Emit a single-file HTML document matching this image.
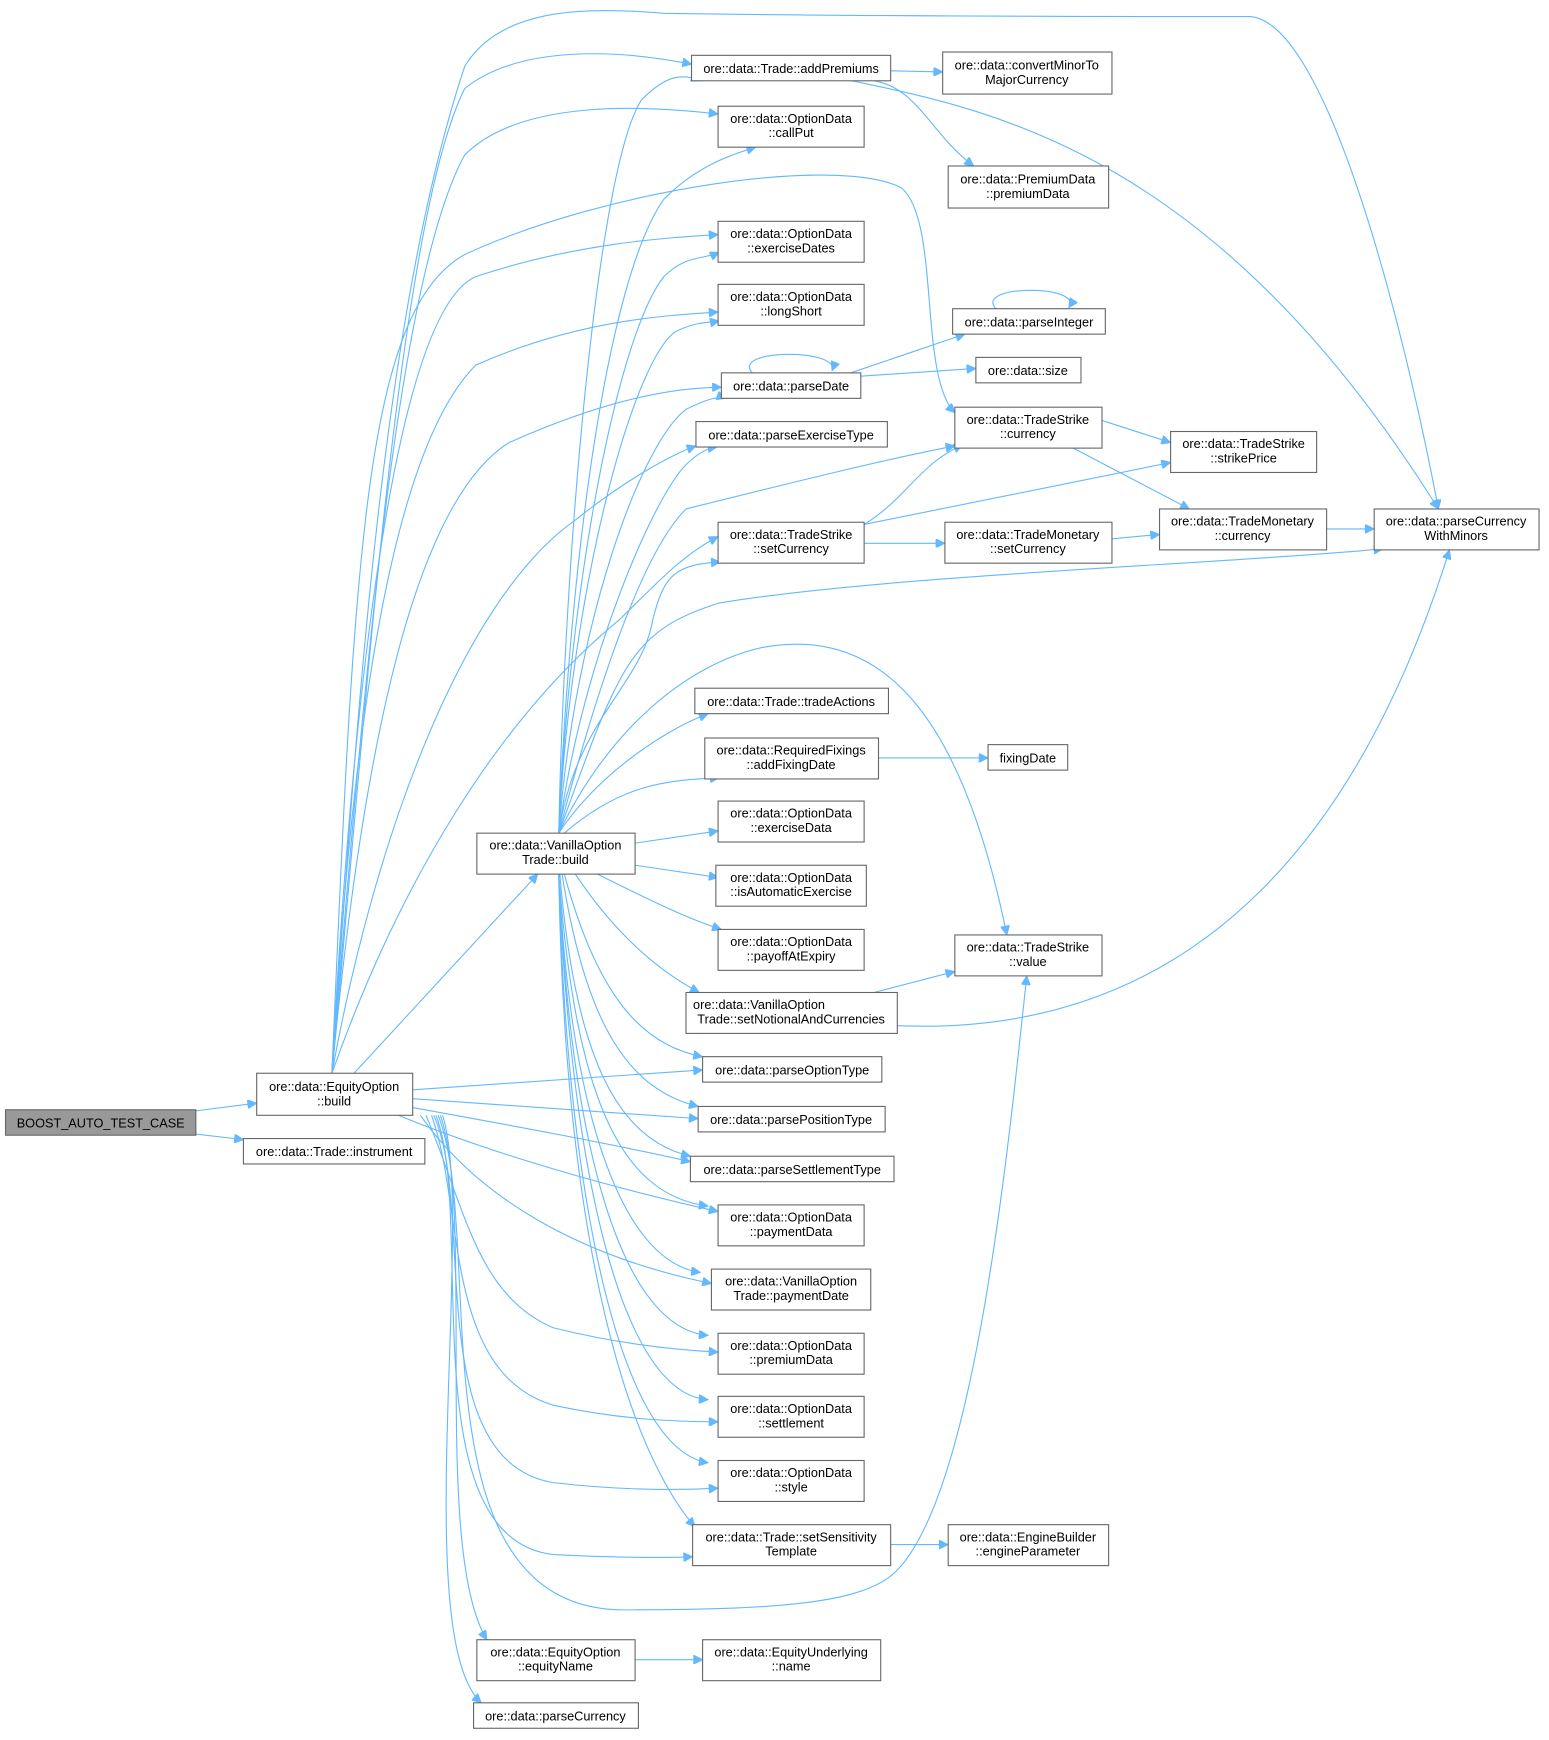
<!DOCTYPE html>
<html><head><meta charset="utf-8"><style>
html,body{margin:0;padding:0;background:#fff}
svg{display:block}
text{font-family:"Liberation Sans",sans-serif;font-size:11.5px;fill:#000;text-anchor:middle}
.n{fill:#fff;stroke:#666;stroke-width:1}
.e{fill:none;stroke:#63b8ff;stroke-width:1;marker-end:url(#a)}
</style></head><body>
<svg width="1549" height="1740" viewBox="0 0 1400 1572.6" xmlns="http://www.w3.org/2000/svg">
<defs><marker id="a" viewBox="0 0 10 10" refX="10" refY="5" markerWidth="10" markerHeight="8" markerUnits="userSpaceOnUse" orient="auto"><path d="M0,0 L10,5 L0,10 z" fill="#63b8ff" stroke="#63b8ff"/></marker></defs>
<g>
<!-- BOOST edges -->
<path class="e" d="M177,1004 L232,997"/>
<path class="e" d="M177,1025 L220,1030"/>
<!-- EquityOption::build edges upward -->
<path class="e" d="M300,970 C330,650 360,200 420,80 C470,40 560,45 625,58"/>
<path class="e" d="M300,970 C330,600 360,250 420,140 C470,90 580,95 649,103"/>
<path class="e" d="M300,970 C320,700 340,300 420,60 C450,10 520,5 600,12 C800,15 1000,15 1130,15 C1200,20 1270,300 1300,460"/>
<path class="e" d="M300,970 C320,500 330,280 420,230 C550,170 760,140 815,170 C850,200 830,340 863,373"/>
<path class="e" d="M300,970 C320,600 360,280 430,250 C520,220 600,215 649,212"/>
<path class="e" d="M300,970 C320,620 360,400 430,330 C520,290 600,285 649,282"/>
<path class="e" d="M300,970 C330,650 380,450 460,400 C550,360 610,350 652,350"/>
<path class="e" d="M300,970 C340,750 420,540 520,470 C570,430 610,410 629,403"/>
<path class="e" d="M300,970 C360,800 450,650 560,560 C600,520 620,500 649,485"/>
<path class="e" d="M320,970 L486,790"/>
<!-- EquityOption::build edges right/down -->
<path class="e" d="M373,985 L635,967"/>
<path class="e" d="M373,993 L631,1011"/>
<path class="e" d="M373,1001 C450,1015 560,1035 624,1050"/>
<path class="e" d="M360,1008 C450,1045 560,1075 649,1095"/>
<path class="e" d="M380,1008 C430,1080 520,1135 643,1160"/>
<path class="e" d="M385,1008 C420,1090 430,1170 500,1200 C560,1215 610,1220 649,1222"/>
<path class="e" d="M390,1008 C420,1090 400,1240 500,1270 C560,1283 610,1285 649,1285"/>
<path class="e" d="M392,1008 C430,1090 380,1320 500,1340 C560,1347 610,1347 649,1345"/>
<path class="e" d="M394,1008 C430,1100 370,1390 500,1405 C560,1408 600,1408 626,1407"/>
<path class="e" d="M396,1008 C440,1120 370,1450 560,1455 C700,1455 780,1450 810,1420 C880,1350 910,1050 928,882"/>
<path class="e" d="M398,1008 C430,1100 390,1400 440,1482"/>
<path class="e" d="M400,1008 C430,1100 370,1480 435,1539"/>
<!-- VanillaOptionTrade::build edges -->
<path class="e" d="M505,753 C510,500 540,150 580,90 C600,70 615,65 633,73"/>
<path class="e" d="M505,753 C515,500 550,250 600,180 C630,150 660,140 683,133"/>
<path class="e" d="M505,753 C515,520 560,300 600,250 C620,230 635,235 650,228"/>
<path class="e" d="M505,753 C515,540 570,330 610,300 C630,290 640,292 650,290"/>
<path class="e" d="M505,753 C520,560 580,400 620,370 C640,360 650,358 656,360"/>
<path class="e" d="M505,753 C525,600 590,450 620,420 C630,410 640,405 648,404"/>
<path class="e" d="M505,753 C540,620 580,500 620,460 C700,440 800,415 863,403"/>
<path class="e" d="M505,753 C520,650 580,620 590,560 C600,520 610,510 651,508"/>
<path class="e" d="M505,753 C560,600 570,570 650,545 C800,520 1100,510 1250,496"/>
<path class="e" d="M505,753 C550,660 620,600 690,585 C800,565 870,650 910,845"/>
<path class="e" d="M505,753 C540,700 600,660 640,645"/>
<path class="e" d="M510,753 C560,710 600,705 650,703"/>
<path class="e" d="M574,762 L649,751"/>
<path class="e" d="M574,782 L649,793"/>
<path class="e" d="M540,790 C580,810 620,830 652,840"/>
<path class="e" d="M520,790 C560,850 600,880 632,897"/>
<path class="e" d="M510,790 C540,900 580,945 635,955"/>
<path class="e" d="M508,790 C530,930 570,985 631,1000"/>
<path class="e" d="M506,790 C520,960 560,1030 624,1045"/>
<path class="e" d="M505,790 C520,990 560,1080 640,1090"/>
<path class="e" d="M505,790 C515,1000 560,1140 633,1150"/>
<path class="e" d="M505,790 C515,1030 560,1200 640,1207"/>
<path class="e" d="M505,790 C515,1050 560,1260 640,1265"/>
<path class="e" d="M505,790 C512,1080 560,1310 640,1322"/>
<path class="e" d="M505,790 C510,1100 560,1300 628,1380"/>
<!-- others -->
<path class="e" d="M805,64 L852,65"/>
<path class="e" d="M790,73 C830,80 840,120 880,150"/>
<path class="e" d="M770,73 C900,100 1100,140 1300,460"/>
<path class="e" d="M778,340 L882,333"/>
<path class="e" d="M760,340 L872,302"/>
<path class="e" d="M680,337 C660,315 760,315 752,335"/>
<path class="e" d="M900,279 C880,257 980,257 966,278"/>
<path class="e" d="M996,380 L1058,400"/>
<path class="e" d="M970,405 L1075,460"/>
<path class="e" d="M781,474 C820,450 830,420 870,402"/>
<path class="e" d="M781,474 L1058,418"/>
<path class="e" d="M781,491 L854,491"/>
<path class="e" d="M1005,487 L1048,483"/>
<path class="e" d="M1199,478 L1242,478"/>
<path class="e" d="M794,685 L893,685"/>
<path class="e" d="M790,897 L863,878"/>
<path class="e" d="M811,927 C1000,935 1200,850 1310,497"/>
<path class="e" d="M805,1396 L857,1396"/>
<path class="e" d="M574,1500 L635,1500"/>
</g>
<g>
<rect x="5" y="1003" width="172" height="23" fill="#999" stroke="#666"/><text x="91" y="1019">BOOST_AUTO_TEST_CASE</text>
<rect class="n" x="232" y="970" width="141" height="38"/><text x="302" y="986">ore::data::EquityOption</text><text x="302" y="999">::build</text>
<rect class="n" x="220" y="1029" width="164" height="23"/><text x="302" y="1045">ore::data::Trade::instrument</text>
<rect class="n" x="431" y="753" width="143" height="37"/><text x="502" y="768">ore::data::VanillaOption</text><text x="502" y="781">Trade::build</text>
<rect class="n" x="625" y="50" width="180" height="23"/><text x="715" y="66">ore::data::Trade::addPremiums</text>
<rect class="n" x="649" y="96" width="132" height="37"/><text x="715" y="111">ore::data::OptionData</text><text x="715" y="124">::callPut</text>
<rect class="n" x="649" y="200" width="132" height="37"/><text x="715" y="215">ore::data::OptionData</text><text x="715" y="228">::exerciseDates</text>
<rect class="n" x="649" y="257" width="132" height="37"/><text x="715" y="272">ore::data::OptionData</text><text x="715" y="285">::longShort</text>
<rect class="n" x="652" y="337" width="126" height="23"/><text x="715" y="353">ore::data::parseDate</text>
<rect class="n" x="629" y="381" width="173" height="23"/><text x="715" y="397">ore::data::parseExerciseType</text>
<rect class="n" x="649" y="472" width="132" height="37"/><text x="715" y="487">ore::data::TradeStrike</text><text x="715" y="500">::setCurrency</text>
<rect class="n" x="628" y="622" width="175" height="23"/><text x="715" y="638">ore::data::Trade::tradeActions</text>
<rect class="n" x="637" y="667" width="157" height="37"/><text x="715" y="682">ore::data::RequiredFixings</text><text x="715" y="695">::addFixingDate</text>
<rect class="n" x="649" y="724" width="132" height="37"/><text x="715" y="739">ore::data::OptionData</text><text x="715" y="752">::exerciseData</text>
<rect class="n" x="647" y="782" width="136" height="37"/><text x="715" y="797">ore::data::OptionData</text><text x="715" y="810">::isAutomaticExercise</text>
<rect class="n" x="649" y="840" width="132" height="37"/><text x="715" y="855">ore::data::OptionData</text><text x="715" y="868">::payoffAtExpiry</text>
<rect class="n" x="620" y="897" width="191" height="37"/><text x="686" y="912">ore::data::VanillaOption</text><text x="715" y="925">Trade::setNotionalAndCurrencies</text>
<rect class="n" x="635" y="955" width="162" height="23"/><text x="716" y="971">ore::data::parseOptionType</text>
<rect class="n" x="631" y="1000" width="169" height="23"/><text x="715" y="1016">ore::data::parsePositionType</text>
<rect class="n" x="624" y="1045" width="184" height="23"/><text x="716" y="1061">ore::data::parseSettlementType</text>
<rect class="n" x="649" y="1089" width="132" height="37"/><text x="715" y="1104">ore::data::OptionData</text><text x="715" y="1117">::paymentData</text>
<rect class="n" x="643" y="1147" width="144" height="37"/><text x="715" y="1162">ore::data::VanillaOption</text><text x="715" y="1175">Trade::paymentDate</text>
<rect class="n" x="649" y="1205" width="132" height="37"/><text x="715" y="1220">ore::data::OptionData</text><text x="715" y="1233">::premiumData</text>
<rect class="n" x="649" y="1262" width="132" height="37"/><text x="715" y="1277">ore::data::OptionData</text><text x="715" y="1290">::settlement</text>
<rect class="n" x="649" y="1320" width="132" height="37"/><text x="715" y="1335">ore::data::OptionData</text><text x="715" y="1348">::style</text>
<rect class="n" x="626" y="1378" width="179" height="37"/><text x="715" y="1393">ore::data::Trade::setSensitivity</text><text x="715" y="1406">Template</text>
<rect class="n" x="431" y="1482" width="143" height="37"/><text x="502" y="1497">ore::data::EquityOption</text><text x="502" y="1510">::equityName</text>
<rect class="n" x="428" y="1539" width="149" height="23"/><text x="502" y="1555">ore::data::parseCurrency</text>
<rect class="n" x="635" y="1482" width="161" height="37"/><text x="715" y="1497">ore::data::EquityUnderlying</text><text x="715" y="1510">::name</text>
<rect class="n" x="857" y="1378" width="145" height="37"/><text x="929" y="1393">ore::data::EngineBuilder</text><text x="929" y="1406">::engineParameter</text>
<rect class="n" x="852" y="47" width="153" height="38"/><text x="928" y="63">ore::data::convertMinorTo</text><text x="928" y="76">MajorCurrency</text>
<rect class="n" x="857" y="150" width="145" height="38"/><text x="929" y="166">ore::data::PremiumData</text><text x="929" y="179">::premiumData</text>
<rect class="n" x="861" y="279" width="138" height="23"/><text x="930" y="295">ore::data::parseInteger</text>
<rect class="n" x="882" y="323" width="95" height="23"/><text x="929" y="339">ore::data::size</text>
<rect class="n" x="863" y="368" width="133" height="37"/><text x="929" y="383">ore::data::TradeStrike</text><text x="929" y="396">::currency</text>
<rect class="n" x="1058" y="390" width="132" height="37"/><text x="1124" y="405">ore::data::TradeStrike</text><text x="1124" y="418">::strikePrice</text>
<rect class="n" x="854" y="472" width="151" height="37"/><text x="929" y="487">ore::data::TradeMonetary</text><text x="929" y="500">::setCurrency</text>
<rect class="n" x="1048" y="460" width="151" height="37"/><text x="1123" y="475">ore::data::TradeMonetary</text><text x="1123" y="488">::currency</text>
<rect class="n" x="1242" y="460" width="149" height="37"/><text x="1316" y="475">ore::data::parseCurrency</text><text x="1316" y="488">WithMinors</text>
<rect class="n" x="893" y="673" width="72" height="23"/><text x="929" y="689">fixingDate</text>
<rect class="n" x="863" y="845" width="133" height="37"/><text x="929" y="860">ore::data::TradeStrike</text><text x="929" y="873">::value</text>
</g>
</svg>
</body></html>
